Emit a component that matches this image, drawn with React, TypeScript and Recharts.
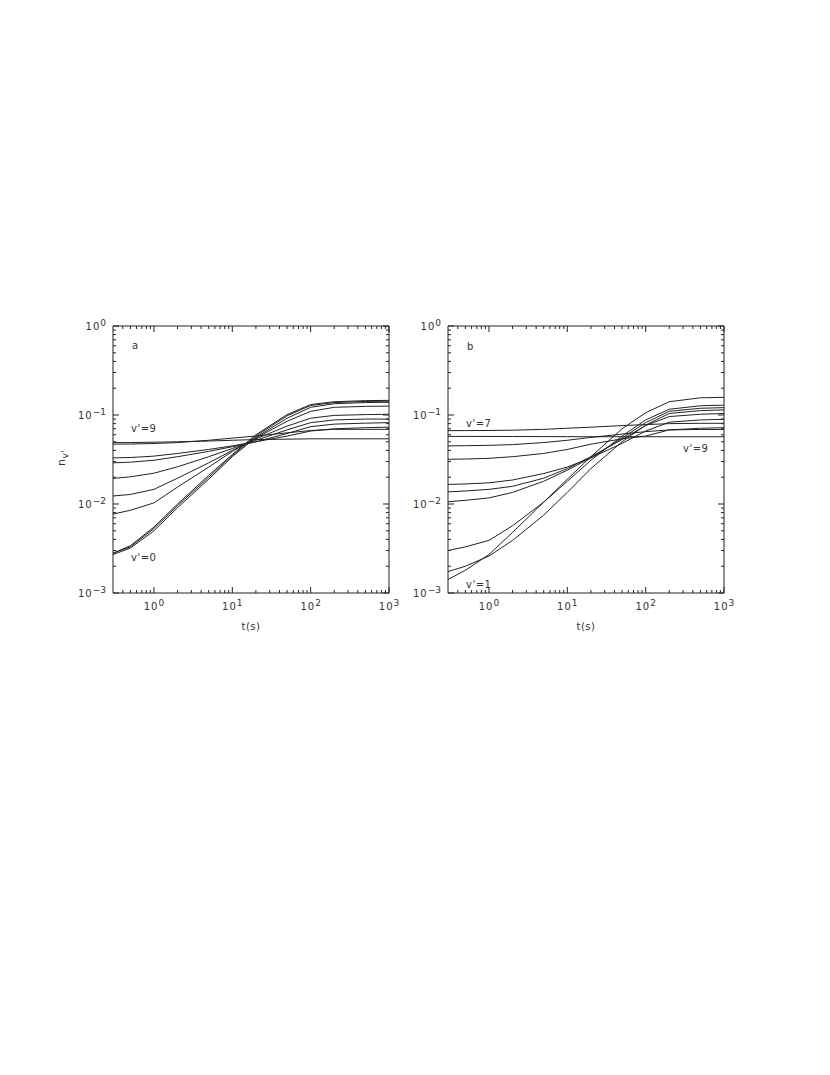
import React from 'react';
import { LineChart, Line, XAxis, YAxis } from 'recharts';

// time grid (s), shared by both panels
const times = [0.3, 0.5, 1, 2, 5, 10, 20, 50, 100, 200, 500, 1000];

// panel a : populations n_v' for v'=0..9
const aV0 = [0.0028, 0.0034, 0.0055, 0.0100, 0.021, 0.036, 0.060, 0.101, 0.131, 0.141, 0.145, 0.146];
const aV1 = [0.0028, 0.0033, 0.0053, 0.0096, 0.020, 0.035, 0.058, 0.098, 0.128, 0.138, 0.142, 0.143];
const aV2 = [0.0027, 0.0032, 0.0050, 0.0091, 0.019, 0.034, 0.056, 0.092, 0.122, 0.134, 0.138, 0.139];
const aV3 = [0.0077, 0.0085, 0.0103, 0.0155, 0.026, 0.039, 0.055, 0.085, 0.110, 0.122, 0.125, 0.126];
const aV4 = [0.0123, 0.0128, 0.0146, 0.0195, 0.029, 0.040, 0.054, 0.075, 0.092, 0.099, 0.101, 0.102];
const aV5 = [0.0194, 0.0202, 0.0222, 0.0262, 0.034, 0.042, 0.052, 0.068, 0.082, 0.088, 0.090, 0.090];
const aV6 = [0.029, 0.0295, 0.031, 0.034, 0.039, 0.044, 0.050, 0.062, 0.074, 0.079, 0.081, 0.082];
const aV7 = [0.033, 0.0333, 0.0345, 0.037, 0.041, 0.045, 0.050, 0.058, 0.066, 0.070, 0.072, 0.073];
const aV8 = [0.047, 0.0472, 0.0478, 0.049, 0.052, 0.055, 0.058, 0.063, 0.067, 0.069, 0.069, 0.069];
const aV9 = [0.049, 0.049, 0.0495, 0.050, 0.051, 0.052, 0.053, 0.0535, 0.054, 0.054, 0.054, 0.054];

// panel b
const bV0 = [0.00174, 0.0020, 0.0026, 0.0039, 0.0075, 0.0135, 0.025, 0.050, 0.077, 0.104, 0.112, 0.114];
const bV1 = [0.00142, 0.0018, 0.0027, 0.0048, 0.0105, 0.019, 0.034, 0.070, 0.106, 0.141, 0.156, 0.158];
const bV2 = [0.0030, 0.0033, 0.0039, 0.0057, 0.0105, 0.018, 0.031, 0.058, 0.088, 0.116, 0.127, 0.129];
const bV3 = [0.0106, 0.0110, 0.0117, 0.0135, 0.018, 0.024, 0.033, 0.055, 0.082, 0.110, 0.119, 0.121];
const bV4 = [0.0137, 0.0140, 0.0146, 0.0158, 0.0195, 0.025, 0.034, 0.053, 0.076, 0.096, 0.102, 0.104];
const bV5 = [0.0166, 0.0168, 0.0173, 0.0186, 0.022, 0.026, 0.033, 0.048, 0.066, 0.083, 0.088, 0.0895];
const bV6 = [0.0318, 0.0320, 0.0326, 0.034, 0.037, 0.041, 0.047, 0.054, 0.058, 0.068, 0.071, 0.072];
const bV7 = [0.0667, 0.0668, 0.067, 0.0675, 0.069, 0.071, 0.073, 0.076, 0.078, 0.080, 0.0807, 0.0807];
const bV8 = [0.045, 0.0452, 0.0456, 0.0465, 0.049, 0.052, 0.056, 0.061, 0.065, 0.068, 0.0688, 0.0688];
const bV9 = [0.0575, 0.0575, 0.0574, 0.0573, 0.0572, 0.0571, 0.057, 0.057, 0.057, 0.057, 0.057, 0.057];

const seriesA = [aV0, aV1, aV2, aV3, aV4, aV5, aV6, aV7, aV8, aV9];
const seriesB = [bV0, bV1, bV2, bV3, bV4, bV5, bV6, bV7, bV8, bV9];

// axes
const xDecades = [1, 10, 100, 1000];
const xExponents = ['0', '1', '2', '3'];
const yDecades = [0.001, 0.01, 0.1, 1];
const yExponents = ['\u22123', '\u22122', '\u22121', '0'];
const xDomain = [0.3, 1000];
const yDomain = [0.001, 1];

const minorSteps = [2, 3, 4, 5, 6, 7, 8, 9];
const xTicks = [0.1, 1, 10, 100]
  .flatMap((d) => minorSteps.map((m) => d * m))
  .filter((v) => v > 0.31 && v < 1000)
  .concat(xDecades);
const yTicks = [0.001, 0.01, 0.1]
  .flatMap((d) => minorSteps.map((m) => d * m))
  .concat(yDecades);

const INK = '#222';
const TEXT = '#333';
const FONT = '"DejaVu Sans", sans-serif';
const MAJ = 6;
const MIN = 3;

const toRows = (series: number[][]) =>
  times.map((t, i) => {
    const row: any = { t };
    series.forEach((s, k) => { row['v' + k] = s[i]; });
    return row;
  });

const Power = ({ x, y, exp, anchor }: { x: number; y: number; exp: string; anchor: 'middle' | 'end' }) => (
  <text x={x} y={y} textAnchor={anchor} fontSize={10} fontFamily={FONT} fill={TEXT}>
    <tspan letterSpacing={1}>10</tspan>
    <tspan dy={-4} fontSize={9}>{exp}</tspan>
  </text>
);

const BottomTick = (props: any) => {
  const { x, y, payload } = props;
  const i = xDecades.indexOf(payload.value);
  const len = i >= 0 ? MAJ : MIN;
  return (
    <g>
      <line x1={x} x2={x} y1={y} y2={y - len} stroke={INK} />
      {i >= 0 && <Power x={x} y={y + 17} exp={xExponents[i]} anchor="middle" />}
    </g>
  );
};

const TopTick = (props: any) => {
  const { x, y, payload } = props;
  const len = xDecades.indexOf(payload.value) >= 0 ? MAJ : MIN;
  return <line x1={x} x2={x} y1={y} y2={y + len} stroke={INK} />;
};

const LeftTick = (props: any) => {
  const { x, y, payload } = props;
  const i = yDecades.indexOf(payload.value);
  const len = i >= 0 ? MAJ : MIN;
  return (
    <g>
      <line x1={x} x2={x + len} y1={y} y2={y} stroke={INK} />
      {i >= 0 && <Power x={x - 7} y={y + 4} exp={yExponents[i]} anchor="end" />}
    </g>
  );
};

const RightTick = (props: any) => {
  const { x, y, payload } = props;
  const len = yDecades.indexOf(payload.value) >= 0 ? MAJ : MIN;
  return <line x1={x} x2={x - len} y1={y} y2={y} stroke={INK} />;
};

const axisCommon = {
  type: 'number' as const,
  scale: 'log' as const,
  allowDataOverflow: true,
  interval: 0 as const,
  tickSize: 0,
  tickMargin: 0,
  tickLine: false,
  axisLine: { stroke: INK },
};

const Panel = ({ series, left }: { series: number[][]; left: number }) => (
  <div style={{ position: 'absolute', left, top: 300 }}>
    <LineChart width={380} height={340} data={toRows(series)} margin={{ top: 25, right: 30, left: 72, bottom: 46 }}>
      <XAxis {...axisCommon} dataKey="t" domain={xDomain} ticks={xTicks} height={1} tick={<BottomTick />} />
      <XAxis {...axisCommon} xAxisId="top" orientation="top" dataKey="t" domain={xDomain} ticks={xTicks}
        height={1} tick={<TopTick />} />
      <YAxis {...axisCommon} domain={yDomain} ticks={yTicks} width={1} tick={<LeftTick />} />
      <YAxis {...axisCommon} yAxisId="right" orientation="right" domain={yDomain} ticks={yTicks}
        width={1} tick={<RightTick />} />
      {series.map((_, k) => (
        <Line key={k} type="linear" dataKey={'v' + k} stroke={INK} strokeWidth={1} dot={false}
          isAnimationActive={false} />
      ))}
    </LineChart>
  </div>
);

const txt = { fontFamily: FONT, fill: TEXT, fontSize: 10, letterSpacing: 0.5 } as const;

const App = () => (
  <div style={{ position: 'absolute', left: 0, top: 0, width: 830, height: 1075, background: '#fff' }}>
    <Panel series={seriesA} left={40} />
    <Panel series={seriesB} left={375} />
    <svg width={830} height={1075} style={{ position: 'absolute', left: 0, top: 0, pointerEvents: 'none' }}>
      <text x={132} y={349} {...txt}>a</text>
      <text x={467} y={350} {...txt}>b</text>
      <text x={131} y={432} {...txt}>v'=9</text>
      <text x={131} y={561} {...txt}>v'=0</text>
      <text x={466} y={427} {...txt}>v'=7</text>
      <text x={683} y={452} {...txt}>v'=9</text>
      <text x={466} y={588} {...txt}>v'=1</text>
      <text x={251} y={630} textAnchor="middle" {...txt}>t(s)</text>
      <text x={586} y={630} textAnchor="middle" {...txt}>t(s)</text>
      <text transform="translate(65,466) rotate(-90)" {...txt} fontSize={11}>
        n<tspan dy={3} fontSize={9}>v'</tspan>
      </text>
    </svg>
  </div>
);

export default App;
